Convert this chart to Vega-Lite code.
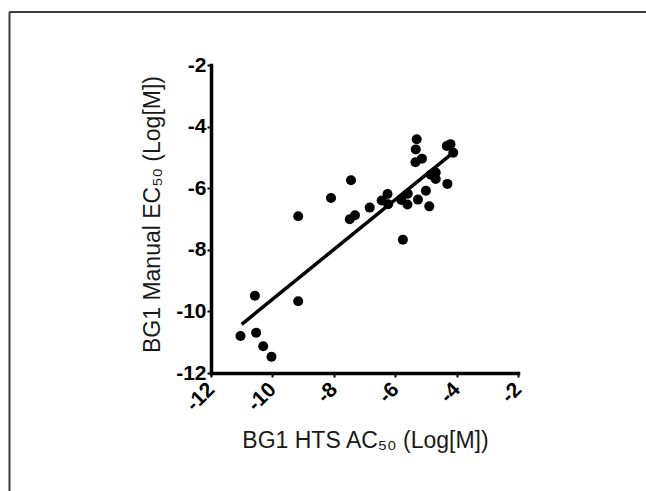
{
  "$schema": "https://vega.github.io/schema/vega-lite/v6.json",
  "width": 307,
  "height": 308,
  "autosize": {"type": "none"},
  "padding": {"left": 211, "top": 65, "right": 128, "bottom": 118},
  "background": "white",
  "config": {"view": {"stroke": null}, "font": "Liberation Sans"},
  "datasets": {
    "points": [
      {"hts": -11.04, "manual": -10.80},
      {"hts": -10.57, "manual": -9.49},
      {"hts": -10.53, "manual": -10.69},
      {"hts": -10.30, "manual": -11.13},
      {"hts": -10.03, "manual": -11.47},
      {"hts": -9.16, "manual": -6.91},
      {"hts": -9.16, "manual": -9.67},
      {"hts": -8.09, "manual": -6.32},
      {"hts": -7.44, "manual": -5.74},
      {"hts": -7.48, "manual": -7.01},
      {"hts": -7.31, "manual": -6.88},
      {"hts": -6.83, "manual": -6.63},
      {"hts": -6.44, "manual": -6.40},
      {"hts": -6.25, "manual": -6.19},
      {"hts": -6.23, "manual": -6.52},
      {"hts": -5.75, "manual": -7.67},
      {"hts": -5.80, "manual": -6.38},
      {"hts": -5.59, "manual": -6.18},
      {"hts": -5.60, "manual": -6.53},
      {"hts": -5.30, "manual": -4.41},
      {"hts": -5.33, "manual": -4.74},
      {"hts": -5.34, "manual": -5.16},
      {"hts": -5.13, "manual": -5.04},
      {"hts": -5.26, "manual": -6.37},
      {"hts": -5.00, "manual": -6.08},
      {"hts": -4.89, "manual": -6.59},
      {"hts": -4.84, "manual": -5.56},
      {"hts": -4.68, "manual": -5.49},
      {"hts": -4.68, "manual": -5.70},
      {"hts": -4.32, "manual": -4.63},
      {"hts": -4.20, "manual": -4.57},
      {"hts": -4.11, "manual": -4.85},
      {"hts": -4.30, "manual": -5.86}
    ],
    "fit": [
      {"hts": -11.0, "manual": -10.42},
      {"hts": -4.12, "manual": -4.85}
    ]
  },
  "layer": [
    {
      "layer": [
        {
          "data": {"name": "points"},
          "mark": {"type": "circle", "size": 100, "color": "black", "opacity": 1},
          "encoding": {
            "x": {
              "field": "hts",
              "type": "quantitative",
              "scale": {"domain": [-12, -2], "nice": false, "zero": false},
              "axis": {
                "orient": "bottom",
                "values": [-12, -10, -8, -6, -4, -2],
                "labelExpr": "datum.value < 0 ? '-' + abs(datum.value) : '' + datum.value",
                "labelAngle": -45,
                "labelAlign": "right",
                "labelBaseline": "middle",
                "labelFont": "Liberation Sans",
                "labelFontWeight": "bold",
                "labelFontSize": 21,
                "labelColor": "black",
                "labelPadding": 9,
                "labelOverlap": false,
                "labelFlush": false,
                "labelBound": false,
                "tickSize": 4,
                "tickWidth": 2,
                "tickColor": "black",
                "domainColor": "black",
                "domainWidth": 3.5,
                "domainCap": "square",
                "grid": false,
                "title": "BG1 HTS AC₅₀ (Log[M])",
                "titleFont": "Liberation Sans",
                "titleFontWeight": "normal",
                "titleFontSize": 23,
                "titleColor": "#1a1a1a",
                "titleX": 154,
                "titleY": 74,
                "titleAlign": "center",
                "titleBaseline": "alphabetic"
              }
            },
            "y": {
              "field": "manual",
              "type": "quantitative",
              "scale": {"domain": [-12, -2], "nice": false, "zero": false},
              "axis": {
                "orient": "left",
                "values": [-12, -10, -8, -6, -4, -2],
                "labelExpr": "datum.value < 0 ? '-' + abs(datum.value) : '' + datum.value",
                "labelFont": "Liberation Sans",
                "labelFontWeight": "bold",
                "labelFontSize": 21,
                "labelColor": "black",
                "labelPadding": 1,
                "labelOverlap": false,
                "labelFlush": false,
                "labelBound": false,
                "tickSize": 4,
                "tickWidth": 2,
                "tickColor": "black",
                "domainColor": "black",
                "domainWidth": 3.5,
                "domainCap": "square",
                "grid": false,
                "title": "BG1 Manual EC₅₀ (Log[M])",
                "titleFont": "Liberation Sans",
                "titleFontWeight": "normal",
                "titleFontSize": 23,
                "titleColor": "#1a1a1a",
                "titleAngle": -90,
                "titleX": -52,
                "titleY": 149,
                "titleAlign": "center",
                "titleBaseline": "alphabetic"
              }
            }
          }
        },
        {
          "data": {"name": "fit"},
          "mark": {"type": "line", "color": "black", "strokeWidth": 3.5},
          "encoding": {
            "x": {"field": "hts", "type": "quantitative"},
            "y": {"field": "manual", "type": "quantitative"}
          }
        }
      ]
    },
    {
      "data": {"name": "fit"},
      "mark": {"type": "point", "opacity": 0},
      "encoding": {
        "x": {
          "field": "hts",
          "type": "quantitative",
          "scale": {"domain": [-12, -2], "range": [-202, 450], "nice": false, "zero": false},
          "axis": {"orient": "top", "offset": 53.5, "domainColor": "#3c3c3c", "domainWidth": 2, "ticks": false, "labels": false, "grid": false, "title": null}
        },
        "y": {
          "field": "manual",
          "type": "quantitative",
          "scale": {"domain": [-12, -2], "range": [440, -53.5], "nice": false, "zero": false},
          "axis": {"orient": "left", "offset": 202, "domainColor": "#3c3c3c", "domainWidth": 2, "ticks": false, "labels": false, "grid": false, "title": null}
        }
      }
    }
  ],
  "resolve": {
    "scale": {"x": "independent", "y": "independent"},
    "axis": {"x": "independent", "y": "independent"}
  }
}
